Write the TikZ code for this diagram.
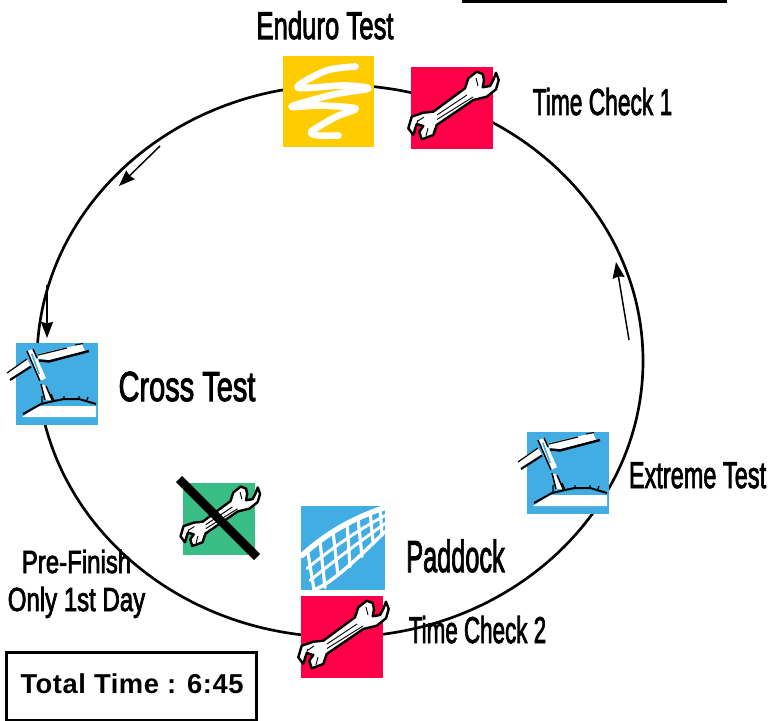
\documentclass[tikz,border=0pt]{standalone}
\usepackage{fontspec}
\setmainfont[RawFeature={embolden=2.6}]{Liberation Sans}
\newfontfamily\boxfont[LetterSpace=2]{Liberation Sans}
\usetikzlibrary{arrows.meta}
\definecolor{iconred}{HTML}{FF0048}
\definecolor{iconyellow}{HTML}{FFCC00}
\definecolor{iconblue}{HTML}{42ADE3}
\definecolor{icongreen}{HTML}{38BE85}
\tikzset{
  iconbox/.style={inner sep=0pt,outer sep=0pt,minimum size=#1},
  lab/.style 2 args={inner sep=0pt,anchor=base,xscale=#2,transform shape,font=\fontsize{#1}{#1}\selectfont},
  flowarrow/.style={line width=1.1pt,-{Stealth[length=12pt,width=9pt,inset=1pt]}},
  wrench/.pic={
    \draw[fill=white,line width=1.8pt,line join=round]
      (24.7,-36.3)--(30.7,-34)--(32,-28)--(30.7,-20.7)--(38,-22)--(41.3,-28)--(44,-35.3)--(46.7,-28)--(44,-18.7)--(34.7,-11.3)--(21.3,-8)--(-15.3,17)--(-18.7,27)--(-30.3,31.3)--(-32.7,23.7)--(-28.7,18)--(-35.3,16)--(-38.7,27)--(-43.7,20.3)--(-40.3,8.7)--(-28.7,4.7)--(-18.7,3.7)--(13,-19.7)--(16.3,-29.7)--cycle;
    \draw[line width=0.7pt] (-15,7)--(15,-13) (-15,11.5)--(21,-11) (-34,12)--(-38,22) (-28,9)--(-34,13) (24,-30)--(26,-22) (-24,20)--(-26,28);
  },
  signpost/.pic={
    % right arm
    \fill[white] (-19,-30)--(25,-40)--(28,-33)--(-8,-24)--(-19,-25)--cycle;
    \draw[line width=1.8pt] (-18,-23.5)--(-8,-22.5)--(32,-33);
    \draw[line width=0.9pt] (-19,-29)--(10,-36) (18,-39)--(26,-40.5);
    % left arm
    \fill[white] (-50,-10)--(-30,-25)--(-26,-18)--(-46,-5)--cycle;
    \draw[line width=1.6pt] (-47,-4)--(-26,-17.5);
    \draw[line width=0.9pt] (-50,-11)--(-30,-25);
    % post
    \fill[white] (-30,-33)--(-24,-35)--(-11,-6)--(-17,-3)--cycle;
    \draw[line width=1.1pt] (-30,-33)--(-17,-3) (-24,-35)--(-20,-26);
    \fill[iconblue] (-26,-30)--(-24.5,-30.5)--(-17,-10)--(-18.5,-9.5)--cycle;
    \fill[white] (-16,0)--(-11,2)--(-5,16)--(-12,16)--cycle;
    \draw[line width=1.1pt] (-16,0)--(-12,16) (-11,2)--(-4,18);
    % ground
    \fill[white] (-35,33)--(-18,22)--(39,22)--(39,33)--cycle;
    \draw[line width=1.5pt,line join=round] (-34,30)--(-16,20)--(-3,17)--(7,15)--(22,15)--(39,20);
    \draw[line width=1pt] (-15,19)--(-15,12) (-3,17)--(-6,10) (7,15)--(7,12) (22,15)--(22,12) (30,16)--(31,13);
  },
  scribble/.pic={
    \draw[white,line width=5pt,line cap=round,line join=round]
      plot[smooth,tension=0.5] coordinates {(27,-35)(-2,-31)(-31,-14)(15,-16)(40,-13)(5,-7)(-37,5)(-8,4)(27,7)(8,15)(-17,30)(-10,34)(10,34)};
  },
  netpic/.pic={
    \begin{scope}[white,line cap=round]
      \draw[line width=4pt] (-41,8)..controls (-17,-14) and (9,-29)..(42,-40);
      \draw[line width=2.2pt] (-36,21)..controls (-13,2) and (14,-17)..(42,-32);
      \draw[line width=2.2pt] (-33,33)..controls (-10,14) and (17,-6)..(42,-24);
      \draw[line width=2.6pt] (-29,42)..controls (-17,39) and (7,19)..(42,-16);
      \foreach \a/\b/\c/\d in {-35/6/-29/42, -23/-6/-18/40, -10/-16/-5/28, 4/-24/7/19, 15/-29/19/9, 27/-36/30/-6, 37/-39/39/-12}
        \draw[line width=2.4pt] (\a,\b)--(\c,\d);
    \end{scope}
  }
}
\begin{document}
\begin{tikzpicture}[x=0.75pt,y=-0.75pt]
\useasboundingbox (0,0) rectangle (771,721);
\fill[white] (0,0) rectangle (771,721);
\coordinate (ringcentre) at (340,361);
\draw[line width=2pt] (ringcentre) ellipse [x radius=303,y radius=276];
\draw[line width=2pt] (462,1.5)--(727,1.5);
% arrows
\coordinate (a1s) at (160,146); \coordinate (a1e) at (119,186);
\coordinate (a2s) at (47,285);  \coordinate (a2e) at (47,338);
\coordinate (a3s) at (629,340); \coordinate (a3e) at (616,262);
\draw[flowarrow] (a1s)--(a1e);
\draw[flowarrow] (a2s)--(a2e);
\draw[flowarrow] (a3s)--(a3e);
% icons
\node[iconbox=68.25pt,fill=iconyellow] (enduro) at (328.5,101.5) {};
\pic at (enduro.center) {scribble};
\node[iconbox=61.5pt,fill=iconred] (check1) at (452,108) {};
\pic at (check1.center) {wrench};
\node[iconbox=61.5pt,fill=iconblue] (cross) at (57,384) {};
\pic at (cross.center) {signpost};
\node[iconbox=61.5pt,fill=iconblue] (extreme) at (568,473) {};
\pic at (extreme.center) {signpost};
\node[iconbox=54pt,fill=icongreen] (prefinish) at (219,518.5) {};
\pic[scale=0.88] at (prefinish.center) {wrench};
\coordinate (x1) at (179,479); \coordinate (x2) at (257,557);
\draw[line width=6.6pt] (x1)--(x2);
\node[iconbox=63pt,fill=iconblue] (paddock) at (343,547.5) {};
\pic at (paddock.center) {netpic};
\node[iconbox=61.5pt,fill=iconred] (check2) at (342,637) {};
\pic at (check2.center) {wrench};
% labels
\node[lab={28.9pt}{0.667}] (tenduro) at (325,39) {Enduro Test};
\node[lab={28pt}{0.61}] (tcheck1) at (602.5,115) {Time Check 1};
\node[lab={31.5pt}{0.69}] (tcross) at (187,401) {Cross Test};
\node[lab={28pt}{0.63}] (textreme) at (697.5,488) {Extreme Test};
\node[lab={33.6pt}{0.565}] (tpaddock) at (455.5,572) {Paddock};
\node[lab={28pt}{0.6}] (tcheck2) at (477.5,643) {Time Check 2};
\node[lab={24pt}{0.75}] (tpre) at (76.5,573) {Pre-Finish};
\node[lab={25pt}{0.72}] (tonly) at (76.5,611) {Only 1st Day};
\node[draw,line width=1.6pt,minimum width=187.5pt,minimum height=51pt,inner sep=0pt] (total) at (131.5,686.5) {};
\node[inner sep=0pt,anchor=base,font=\boxfont\fontsize{20.5}{20.5}\selectfont\bfseries] (totaltext) at (132,693) {Total Time : 6:45};
\end{tikzpicture}
\end{document}
